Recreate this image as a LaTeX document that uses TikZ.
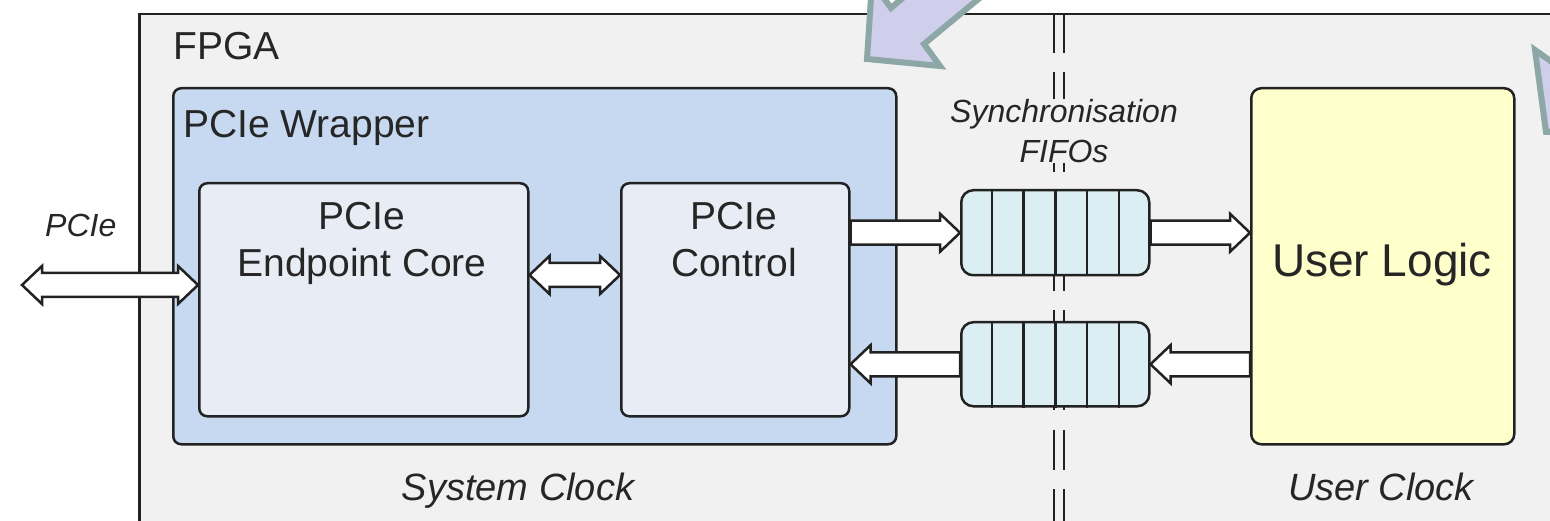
\documentclass[tikz,border=0pt]{standalone}
\usepackage{fontspec}
\setmainfont{Liberation Sans}
\usetikzlibrary{calc}
\definecolor{fpgabg}{HTML}{F1F1F1}
\definecolor{wrapc}{HTML}{C6D9F0}
\definecolor{innerc}{HTML}{E8ECF4}
\definecolor{fifoc}{HTML}{DAEEF3}
\definecolor{userc}{HTML}{FFFFCC}
\definecolor{linec}{HTML}{222222}
\definecolor{txtc}{HTML}{262626}
\definecolor{lilac}{HTML}{CFCFEC}
\definecolor{lilacedge}{HTML}{8DA7A7}
\tikzset{
  box/.style={draw=linec, line width=2.5pt, rounded corners=8pt, inner sep=0pt, anchor=north west},
  lbl/.style={text=txtc, font=\fontsize{39}{47}\selectfont, inner sep=0pt, anchor=base},
  ilbl/.style={text=txtc, font=\fontsize{32}{40}\selectfont\itshape, inner sep=0pt, anchor=base},
  clk/.style={text=txtc, font=\fontsize{38}{45}\selectfont\itshape, inner sep=0pt, anchor=base},
  clockline/.style={draw=linec, line width=2.5pt, dash pattern=on 40pt off 19.5pt},
  divider/.style={draw=linec, line width=2.5pt},
  harrow/.style={draw=linec, fill=white, line width=2.5pt, line join=miter,
    to path={let \p1=(\tikztostart), \p2=(\tikztotarget), \p3=($(\p2)!20pt!(\p1)$) in
      (\x1,\y1+12pt) -- (\x3,\y1+12pt) -- (\x3,\y1+19pt) -- (\p2) -- (\x3,\y1-19pt) -- (\x3,\y1-12pt) -- (\x1,\y1-12pt) -- cycle}},
  dharrow/.style={draw=linec, fill=white, line width=2.5pt, line join=miter,
    to path={let \p1=(\tikztostart), \p2=(\tikztotarget), \p3=($(\p2)!20pt!(\p1)$), \p4=($(\p1)!20pt!(\p2)$) in
      (\p1) -- (\x4,\y1+19pt) -- (\x4,\y1+12pt) -- (\x3,\y1+12pt) -- (\x3,\y1+19pt) -- (\p2) -- (\x3,\y1-19pt) -- (\x3,\y1-12pt) -- (\x4,\y1-12pt) -- (\x4,\y1-19pt) -- cycle}},
  lilacarrow/.style={draw=lilacedge, fill=lilac, line width=6pt, line join=miter},
}
\begin{document}
\begin{tikzpicture}[x=1pt,y=-1pt]
\useasboundingbox (0,0) rectangle (1550,521);
\clip (0,0) rectangle (1550,521);
\fill[white] (0,0) rectangle (1550,521);

% FPGA region
\node[box, rounded corners=0pt, fill=fpgabg, minimum width=1500pt, minimum height=600pt] (fpga) at (138,13) {};
\node[lbl, anchor=base west] (fpgat) at (173,60) {FPGA};

% PCIe wrapper
\node[box, fill=wrapc, minimum width=723pt, minimum height=356pt] (wrap) at (172,87) {};
\node[lbl, anchor=base west] (wrapt) at (183,138) {PCIe Wrapper};

\node[box, fill=innerc, minimum width=329pt, minimum height=233pt] (ep) at (198,182) {};
\node[lbl] (ep1) at (362,230) {PCIe};
\node[lbl] (ep2) at (362,277) {Endpoint Core};

\node[box, fill=innerc, minimum width=228pt, minimum height=233pt] (ctrl) at (620,182) {};
\node[lbl] (ct1) at (734,230) {PCIe};
\node[lbl] (ct2) at (734,277) {Control};

% User logic
\node[box, rounded corners=10pt, fill=userc, minimum width=263pt, minimum height=356pt] (user) at (1250,87) {};
\node[lbl, font=\fontsize{46}{55}\selectfont] (ut) at (1382,277) {User Logic};

% clock boundary
\coordinate (cbtop) at (1054,13);
\coordinate (cbtop2) at (1064,13);
\draw[clockline] (cbtop) -- ++(0,560);
\draw[clockline] (cbtop2) -- ++(0,560);
\node[text=txtc, font=\fontsize{32}{40}\selectfont\itshape, inner xsep=3pt, inner ysep=0pt, fill=fpgabg, align=center, anchor=north] (synct) at (1064,99) {Synchronisation\\FIFOs};

% FIFOs
\node[box, rounded corners=12pt, fill=fifoc, minimum width=188pt, minimum height=85pt] (fifo1) at (960,189) {};
\node[box, rounded corners=12pt, fill=fifoc, minimum width=188pt, minimum height=84pt] (fifo2) at (960,321) {};
\foreach \f in {fifo1,fifo2}{
  \foreach \k in {1,...,5}{
    \draw[divider] ($(\f.north west)!\k/6!(\f.north east)$) -- ($(\f.south west)!\k/6!(\f.south east)$);
  }
}

% block arrows
\coordinate (pcieL) at (22,285);
\coordinate (ecrow) at (0,275);
\draw[dharrow] (pcieL) to (ep.west |- pcieL);
\draw[dharrow] (ep.east |- ecrow) to (ctrl.west |- ecrow);
\draw[harrow] (fifo1.west -| ctrl.east) to (fifo1.west);
\draw[harrow] (fifo1.east) to (fifo1.east -| user.west);
\draw[harrow] (fifo2.east -| user.west) to (fifo2.east);
\draw[harrow] (fifo2.west) to (fifo2.west -| ctrl.east);

% labels
\node[ilbl, anchor=base west] (pcielbl) at (45,237) {PCIe};
\node[clk] (sysclk) at (518,500) {System Clock};
\node[clk] (usrclk) at (1381,500) {User Clock};

% overlay arrows
\draw[lilacarrow] (867,59) -- (940,66) -- (924,44) -- (1080,-85) -- (1046,-125) -- (891,8) -- (872,-18) -- cycle;
\draw[lilacarrow] (1535,50) -- (1580,82) -- (1580,132) -- (1546,132) -- cycle;
\end{tikzpicture}
\end{document}
